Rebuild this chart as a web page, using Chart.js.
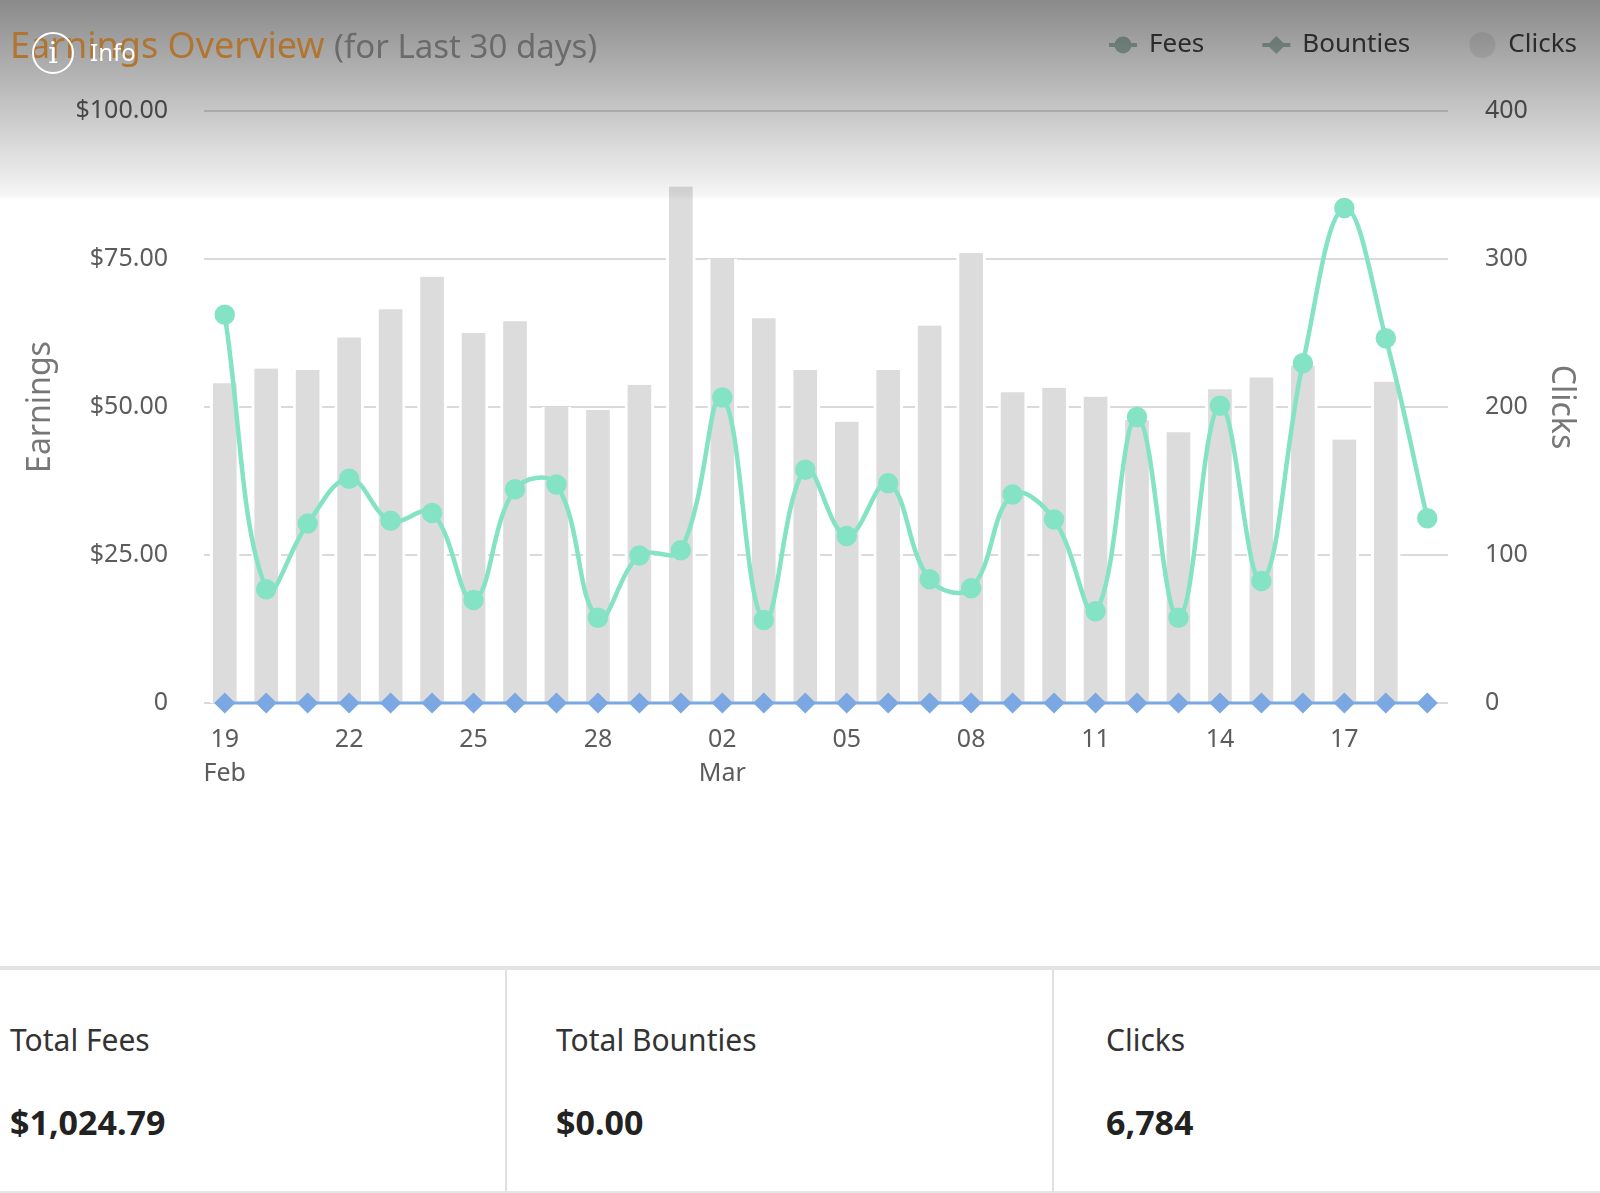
<!DOCTYPE html>
<html>
<head>
<meta charset="utf-8">
<title>Earnings Overview</title>
<script src="https://cdn.jsdelivr.net/npm/chart.js@4.4.1/dist/chart.umd.min.js"></script>
<style>
  html, body { margin: 0; padding: 0; background: #fff; }
  body { width: 1600px; height: 1193px; position: relative; overflow: hidden; font-family: 'Noto Sans', sans-serif; }
  #chartBox { position: absolute; left: 0; top: 0; width: 1600px; height: 940px; }
  #shade { position: absolute; left: 0; top: 0; width: 1600px; height: 200px; pointer-events: none;
    background: linear-gradient(to bottom, rgba(0,0,0,0.46) 0px, rgba(0,0,0,0.04) 195px, rgba(0,0,0,0) 200px); }
  #title { position: absolute; left: 10px; top: 27px; font-size: 36px; line-height: 1; white-space: nowrap; }
  #title .main { color: #b07530; }
  #title .sub { color: #6b6b6b; font-size: 33px; }
  #info { position: absolute; left: 32px; top: 32px; height: 42px; color: #fff; }
  #info .ring { position: absolute; left: 0; top: 0; width: 38px; height: 38px; border: 2px solid #fff; border-radius: 50%;
    font-family: 'DejaVu Serif', serif; font-size: 30px; line-height: 38px; text-align: center; }
  #info .txt { position: absolute; left: 58px; top: 8px; font-size: 24px; line-height: 1; }
  #divider { position: absolute; left: 0; top: 966px; width: 1600px; height: 4px; background: #e3e3e3; }
  .cell { position: absolute; top: 970px; height: 221px; border-bottom: 2px solid #e6e6e6; }
  .cell + .cell { border-left: 2px solid #e0e0e0; }
  .cell .lbl { position: absolute; top: 55px; font-size: 30px; line-height: 1; color: #333; white-space: nowrap; }
  .cell .val { position: absolute; top: 135px; font-size: 34px; line-height: 1; font-weight: bold; color: #222; white-space: nowrap; }
</style>
</head>
<body>
<div id="chartBox"><canvas id="earningsChart"></canvas></div>
<div id="shade"></div>
<div id="title"><span class="main">Earnings Overview</span> <span class="sub">(for Last 30 days)</span></div>
<div id="info"><div class="ring">i</div><div class="txt">Info</div></div>
<div id="divider"></div>
<div class="cell" style="left:0; width:505px;"><div class="lbl" style="left:10px;">Total Fees</div><div class="val" style="left:10px;">$1,024.79</div></div>
<div class="cell" style="left:505px; width:547px;"><div class="lbl" style="left:49px;">Total Bounties</div><div class="val" style="left:49px;">$0.00</div></div>
<div class="cell" style="left:1052px; width:548px;"><div class="lbl" style="left:52px;">Clicks</div><div class="val" style="left:52px;">6,784</div></div>

<script>
// Days shown on the x axis (Feb 19 - Mar 19)
const days = ['19', '20', '21', '22', '23', '24', '25', '26', '27', '28', '29',
    '01', '02', '03', '04', '05', '06', '07', '08', '09', '10',
    '11', '12', '13', '14', '15', '16', '17', '18', '19'];
const months = ['Feb', 'Feb', 'Feb', 'Feb', 'Feb', 'Feb', 'Feb', 'Feb', 'Feb', 'Feb', 'Feb',
    'Mar', 'Mar', 'Mar', 'Mar', 'Mar', 'Mar', 'Mar', 'Mar', 'Mar', 'Mar',
    'Mar', 'Mar', 'Mar', 'Mar', 'Mar', 'Mar', 'Mar', 'Mar', 'Mar'];

// Series values
const fees = [65.6, 19.2, 30.3, 37.9, 30.8, 32.1, 17.4, 36.1, 36.9, 14.4,
    24.9, 25.8, 51.6, 14.0, 39.4, 28.2, 37.1, 20.9, 19.4, 35.2,
    31.0, 15.5, 48.3, 14.4, 50.2, 20.6, 57.4, 83.6, 61.6, 31.2];
const bounties = [0, 0, 0, 0, 0, 0, 0, 0, 0, 0,
    0, 0, 0, 0, 0, 0, 0, 0, 0, 0,
    0, 0, 0, 0, 0, 0, 0, 0, 0, 0];
const clicks = [216, 226, 225, 247, 266, 288, 250, 258, 200, 198,
    215, 349, 300, 260, 225, 190, 225, 255, 304, 210,
    213, 207, 191, 183, 212, 220, 228, 178, 217, 0];

// Axis ticks
const earningsTicks = [0, 25, 50, 75, 100];
const clicksTicks = [0, 100, 200, 300, 400];
const seriesNames = ['Fees', 'Bounties', 'Clicks'];
const tickStep = 3;

// Small canvases used as legend markers
function makeMarker(kind, color) {
    const c = document.createElement('canvas');
    c.width = 30;
    c.height = 28;
    const g = c.getContext('2d');
    g.fillStyle = color;
    g.strokeStyle = color;
    if (kind !== 'dot') {
        g.lineWidth = 4;
        g.beginPath();
        g.moveTo(1, 14);
        g.lineTo(29, 14);
        g.stroke();
    }
    g.beginPath();
    if (kind === 'circle') {
        g.arc(15, 14, 8.5, 0, Math.PI * 2);
    } else if (kind === 'diamond') {
        g.moveTo(15, 5); g.lineTo(24, 14); g.lineTo(15, 23); g.lineTo(6, 14); g.closePath();
    } else {
        g.arc(15, 14, 13, 0, Math.PI * 2);
    }
    g.fill();
    return c;
}
const markers = [
    makeMarker('circle', '#abc2ba'),
    makeMarker('diamond', '#abc2ba'),
    makeMarker('dot', '#ebebeb')
];

Chart.defaults.font.family = "'Noto Sans', sans-serif";
Chart.defaults.animation = false;

const ctx = document.getElementById('earningsChart').getContext('2d');
const earningsChart = new Chart(ctx, {
    type: 'bar',
    data: {
        labels: days,
        datasets: [{
            type: 'line',
            label: seriesNames[0],
            data: fees,
            yAxisID: 'y',
            order: 1,
            clip: false,
            borderColor: '#84e3c5',
            backgroundColor: '#84e3c5',
            borderWidth: 4.5,
            pointRadius: 8,
            pointHoverRadius: 8,
            tension: 0.4,
            fill: false
        }, {
            type: 'line',
            label: seriesNames[1],
            data: bounties,
            yAxisID: 'y',
            order: 0,
            clip: false,
            borderColor: '#7ba8e2',
            backgroundColor: '#7ba8e2',
            borderWidth: 3,
            pointStyle: 'rectRot',
            pointRadius: 8.5,
            pointHoverRadius: 8.5,
            fill: false
        }, {
            type: 'bar',
            label: seriesNames[2],
            data: clicks,
            yAxisID: 'y1',
            order: 2,
            backgroundColor: '#dcdcdc',
            borderColor: '#ffffff',
            borderWidth: { left: 3, right: 3, top: 0, bottom: 0 },
            barThickness: 29
        }]
    },
    options: {
        responsive: true,
        maintainAspectRatio: false,
        layout: { padding: { left: 0, top: 0, bottom: 0, right: -9 } },
        plugins: {
            legend: {
                position: 'top',
                align: 'end',
                weight: 3000,
                labels: {
                    usePointStyle: true,
                    pointStyleWidth: 26,
                    padding: 32,
                    color: '#454545',
                    font: { size: 26 },
                    sort: function(a, b) { return a.datasetIndex - b.datasetIndex; },
                    generateLabels: function(chart) {
                        const items = Chart.defaults.plugins.legend.labels.generateLabels(chart);
                        items.forEach(function(item) {
                            item.pointStyle = markers[item.datasetIndex];
                            if (item.datasetIndex < seriesNames.length - 1) item.text = item.text + '    ';
                        });
                        return items;
                    }
                }
            },
            // empty title only used as a spacer under the legend
            title: {
                display: true,
                text: '',
                padding: { top: 15, bottom: 15 },
                font: { size: 13, lineHeight: 1 }
            },
            tooltip: { enabled: false }
        },
        scales: {
            x: {
                offset: true,
                grid: { display: false },
                border: { display: false },
                ticks: {
                    autoSkip: false,
                    maxRotation: 0,
                    padding: 12,
                    color: '#5c5c5c',
                    font: { size: 25, lineHeight: 1.35 },
                    callback: function(value, index) {
                        if (index % tickStep !== 0) return '';
                        if (index === 0 || months[index] !== months[index - tickStep]) return [days[index], months[index]];
                        return days[index];
                    }
                },
                afterFit: function(scale) { scale.height = 237; }
            },
            y: {
                position: 'left',
                min: earningsTicks[0],
                max: earningsTicks[earningsTicks.length - 1],
                afterBuildTicks: function(scale) {
                    scale.ticks = earningsTicks.map(function(v) { return { value: v }; });
                },
                grid: { color: '#dadada', lineWidth: 2, drawTicks: false },
                border: { display: false },
                ticks: {
                    padding: 36,
                    color: '#5c5c5c',
                    font: { size: 25 },
                    callback: function(value) { return value === 0 ? '0' : '$' + value.toFixed(2); }
                },
                title: {
                    display: true,
                    text: 'Earnings',
                    color: '#777',
                    font: { size: 32 },
                    padding: { top: 22, bottom: 0 }
                },
                afterFit: function(scale) { scale.width = 204; }
            },
            y1: {
                position: 'right',
                min: clicksTicks[0],
                max: clicksTicks[clicksTicks.length - 1],
                afterBuildTicks: function(scale) {
                    scale.ticks = clicksTicks.map(function(v) { return { value: v }; });
                },
                grid: { display: false, drawTicks: false },
                border: { display: false },
                ticks: {
                    padding: 37,
                    color: '#5c5c5c',
                    font: { size: 25 }
                },
                title: {
                    display: true,
                    text: 'Clicks',
                    color: '#777',
                    font: { size: 32 },
                    padding: { top: 29, bottom: 0 }
                },
                afterFit: function(scale) { scale.width = 161; }
            }
        }
    }
});
</script>
</body>
</html>
